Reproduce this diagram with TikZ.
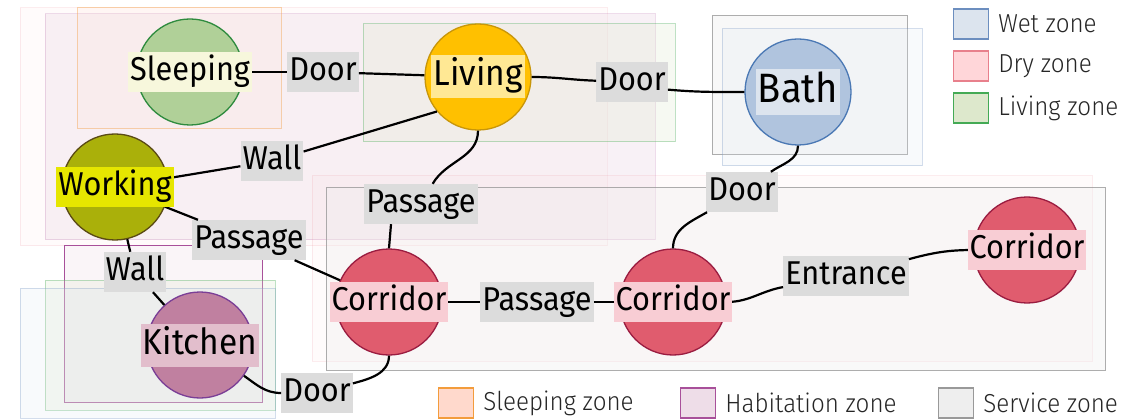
\documentclass[tikz,border=0pt]{standalone}
\usepackage{fontspec}
\setmainfont{Fira Sans}[FakeStretch=0.93]
\newfontfamily\legendfont{Fira Sans Light}[FakeStretch=0.93]
\usepackage{tikz}
\usepackage{xcolor}

\definecolor{wetfill}{HTML}{DCE4EE}\definecolor{wetline}{HTML}{6C8EBF}
\definecolor{dryfill}{HTML}{FFD6D9}\definecolor{dryline}{HTML}{E8808C}
\definecolor{livfill}{HTML}{DDE8CC}\definecolor{livline}{HTML}{44AA55}
\definecolor{slpfill}{HTML}{FFD9CC}\definecolor{slpline}{HTML}{F39C3C}
\definecolor{habfill}{HTML}{EEDDE8}\definecolor{habline}{HTML}{A8509A}
\definecolor{srvfill}{HTML}{EEEEEE}\definecolor{srvline}{HTML}{999999}
\definecolor{edgegray}{HTML}{DCDCDC}

\begin{document}
\begin{tikzpicture}[x=1pt,y=1pt,
  zone/.style={fill=#1fill,draw=#1line,line width=1pt},
  room/.style={circle,minimum size=106pt,inner sep=0pt,line width=1.3pt},
  roomtext/.style={inner xsep=2pt,inner ysep=4.5pt,text height=24pt,text depth=7pt,font=\fontsize{33}{36}\selectfont},
  bigtext/.style={roomtext,text height=26pt,text depth=8pt,font=\fontsize{36}{40}\selectfont},
  wall/.style={fill=edgegray,inner xsep=2pt,inner ysep=4.5pt,text height=24pt,text depth=7pt,font=\fontsize{33}{36}\selectfont},
  link/.style={line width=2.2pt},
  key/.style={fill=#1fill,draw=#1line,minimum width=35pt,minimum height=30pt,inner sep=0pt,line width=1.2pt},
  keytext/.style={anchor=west,inner sep=0pt,font=\legendfont\fontsize{26}{30}\selectfont,text=black!85}]
\useasboundingbox (0,0) rectangle (1140,418);

% zones
\foreach \z/\f/\o/\xa/\ya/\xb/\yb in {dry/.1/.15/20/172/607/410, hab/.4/.2/45/178/655/404,
    slp/.15/.4/77/289/281/410, liv/.25/.35/363/276/675/394, srv/.4/.8/712/263/907/402,
    wet/.2/.3/722/252/922/389, dry/.1/.15/312/57/1092/242, srv/.35/.8/326/48/1105/230,
    hab/.3/1/64/16/262/172, liv/.25/.35/45/8/275/138, wet/.2/.3/20/0/275/130}
  \draw[zone=\z,fill opacity=\f,draw opacity=\o] (\xa,\ya) rectangle (\xb,\yb);

% rooms
\node[room,fill={rgb,255:red,176;green,208;blue,152},draw={rgb,255:red,46;green,139;blue,62}] (sleep) at (190,346) {};
\node[room,fill={rgb,255:red,255;green,192;blue,0},draw={rgb,255:red,200;green,150;blue,10}] (living) at (478,341) {};
\node[room,fill={rgb,255:red,176;green,196;blue,222},draw={rgb,255:red,74;green,120;blue,180}] (bath) at (798,326) {};
\node[room,fill={rgb,255:red,170;green,176;blue,10},draw={rgb,255:red,90;green,74;blue,20}] (working) at (115,231) {};
\node[room,fill={rgb,255:red,192;green,128;blue,160},draw={rgb,255:red,122;green,62;blue,150}] (kitchen) at (200,73) {};
\node[room,fill={rgb,255:red,224;green,92;blue,110},draw={rgb,255:red,154;green,28;blue,64}] (cor1) at (389,116) {};
\node[room,fill={rgb,255:red,224;green,92;blue,110},draw={rgb,255:red,154;green,28;blue,64}] (cor2) at (673,116) {};
\node[room,fill={rgb,255:red,224;green,92;blue,110},draw={rgb,255:red,154;green,28;blue,64}] (cor3) at (1027,168) {};

% connections
\node[wall] (d1) at (323,346) {Door};
\node[wall] (d2) at (632,336) {Door};
\node[wall] (w1) at (272,257) {Wall};
\node[wall] (p1) at (421,214) {Passage};
\node[wall] (p2) at (249,178) {Passage};
\node[wall] (w2) at (135,146) {Wall};
\node[wall] (d3) at (317,25) {Door};
\node[wall] (p3) at (537,116) {Passage};
\node[wall] (d4) at (742,226) {Door};
\node[wall] (en) at (846,142) {Entrance};

\draw[link] (sleep) -- (d1);
\draw[link] (d1) -- (living);
\draw[link] (living) to[out=0,in=178] (d2);
\draw[link] (d2.-12) to[out=-5,in=180] (bath);
\draw[link] (working) -- (w1);
\draw[link] (w1) -- (living.220);
\draw[link] (living.south) to[out=-90,in=60] (p1);
\draw[link] ([xshift=-30pt]p1.south) -- (cor1.north);
\draw[link] (working) -- (p2);
\draw[link] (p2) -- (cor1);
\draw[link] (working) -- (w2);
\draw[link] (w2) -- (kitchen);
\draw[link] (kitchen) to[out=-35,in=180] (d3);
\draw[link] (d3) to[out=15,in=-90] (cor1.south);
\draw[link] (cor1) -- (p3);
\draw[link] (p3) -- (cor2);
\draw[link] (cor2.north) to[out=90,in=210] (d4);
\draw[link] (d4) to[out=35,in=-90] (bath.south);
\draw[link] (cor2) to[out=0,in=190] (en);
\draw[link] (en) to[out=15,in=180] (cor3.west);

% room names
\node[roomtext,fill={rgb,255:red,247;green,247;blue,220}] (sleeptxt) at (sleep) {Sleeping};
\node[bigtext,fill={rgb,255:red,255;green,232;blue,148}] (livingtxt) at (living) {Living};
\node[roomtext,text height=29pt,text depth=8pt,font=\fontsize{41}{44}\selectfont,fill=wetfill] (bathtxt) at (bath) {Bath};
\node[roomtext,fill={rgb,255:red,230;green,230;blue,0}] (worktxt) at (working) {Working};
\node[bigtext,fill={rgb,255:red,226;green,190;blue,204}] (kitchentxt) at (kitchen) {Kitchen};
\node[roomtext,fill={rgb,255:red,248;green,205;blue,212}] (cor1txt) at (cor1) {Corridor};
\node[roomtext,fill={rgb,255:red,248;green,205;blue,212}] (cor2txt) at (cor2) {Corridor};
\node[roomtext,fill={rgb,255:red,248;green,205;blue,212}] (cor3txt) at (cor3) {Corridor};

% legend
\foreach \z/\t/\px/\py in {wet/Wet zone/953/394, dry/Dry zone/953/352, liv/Living zone/953/310,
    slp/Sleeping zone/438/15, hab/Habitation zone/680/15, srv/Service zone/938/15}
{
  \node[key=\z,anchor=west] (key\z) at (\px,\py) {};
  \node[keytext] (lab\z) at ([xshift=9pt]key\z.east) {\t};
}
\end{tikzpicture}
\end{document}
